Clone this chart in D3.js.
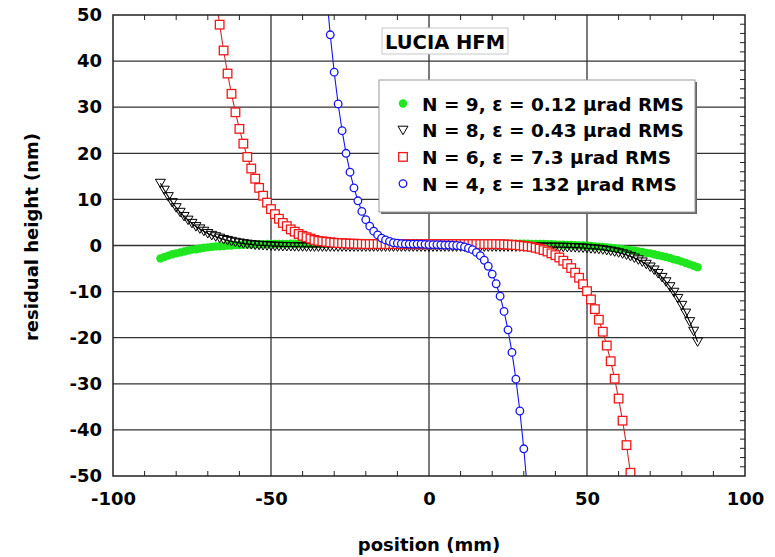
<!DOCTYPE html>
<html>
<head>
<meta charset="utf-8">
<title>LUCIA HFM residual height</title>
<style>
  body { margin: 0; background: #fff; }
  text { font-family: "DejaVu Sans", sans-serif; font-weight: bold; fill: #000; }
  .grid line { stroke: #333; stroke-width: 1.3; }
  .minor line { stroke: #222; stroke-width: 1; }
</style>
</head>
<body>
<svg width="775" height="557"></svg>
<script src="https://cdn.jsdelivr.net/npm/d3@7/dist/d3.min.js"></script>
<script>
// positions along the mirror (mm), shared by all four fits
const positions = [
  -85, -83.75, -82.5, -81.25, -80, -78.75, -77.5, -76.25, -75, -73.75,
  -72.5, -71.25, -70, -68.75, -67.5, -66.25, -65, -63.75, -62.5, -61.25,
  -60, -58.75, -57.5, -56.25, -55, -53.75, -52.5, -51.25, -50, -48.75,
  -47.5, -46.25, -45, -43.75, -42.5, -41.25, -40, -38.75, -37.5, -36.25,
  -35, -33.75, -32.5, -31.25, -30, -28.75, -27.5, -26.25, -25, -23.75,
  -22.5, -21.25, -20, -18.75, -17.5, -16.25, -15, -13.75, -12.5, -11.25,
  -10, -8.75, -7.5, -6.25, -5, -3.75, -2.5, -1.25, 0, 1.25,
  2.5, 3.75, 5, 6.25, 7.5, 8.75, 10, 11.25, 12.5, 13.75,
  15, 16.25, 17.5, 18.75, 20, 21.25, 22.5, 23.75, 25, 26.25,
  27.5, 28.75, 30, 31.25, 32.5, 33.75, 35, 36.25, 37.5, 38.75,
  40, 41.25, 42.5, 43.75, 45, 46.25, 47.5, 48.75, 50, 51.25,
  52.5, 53.75, 55, 56.25, 57.5, 58.75, 60, 61.25, 62.5, 63.75,
  65, 66.25, 67.5, 68.75, 70, 71.25, 72.5, 73.75, 75, 76.25,
  77.5, 78.75, 80, 81.25, 82.5, 83.75, 85
];

// residual height (nm), N = 9
const n9Values = [
  -2.8, -2.5, -2.2, -1.9, -1.7, -1.5, -1.3, -1.1, -0.9, -0.8,
  -0.65, -0.5, -0.4, -0.3, -0.2, -0.15, -0.1, 0, 0, 0.1,
  0.1, 0.15, 0.2, 0.2, 0.25, 0.27, 0.29, 0.31, 0.32, 0.33,
  0.34, 0.35, 0.36, 0.37, 0.38, 0.38, 0.39, 0.4, 0.4, 0.4,
  0.4, 0.4, 0.4, 0.4, 0.4, 0.4, 0.4, 0.4, 0.4, 0.4,
  0.4, 0.4, 0.4, 0.4, 0.4, 0.4, 0.4, 0.4, 0.4, 0.4,
  0.4, 0.4, 0.4, 0.4, 0.4, 0.4, 0.4, 0.4, 0.4, 0.4,
  0.4, 0.4, 0.4, 0.4, 0.4, 0.4, 0.4, 0.4, 0.4, 0.4,
  0.4, 0.4, 0.4, 0.4, 0.4, 0.4, 0.4, 0.4, 0.4, 0.4,
  0.4, 0.4, 0.38, 0.37, 0.36, 0.35, 0.33, 0.31, 0.29, 0.26,
  0.23, 0.2, 0.17, 0.14, 0.1, 0.07, 0.03, 0, -0.05, -0.1,
  -0.2, -0.25, -0.3, -0.4, -0.5, -0.6, -0.7, -0.8, -0.9, -1.0,
  -1.1, -1.3, -1.4, -1.6, -1.7, -1.9, -2.1, -2.3, -2.5, -2.7,
  -3.0, -3.2, -3.5, -3.8, -4.1, -4.4, -4.7
];

// N = 8
const n8Values = [
  13.5, 12.0, 10.6, 9.3, 8.2, 7.2, 6.3, 5.5, 4.8, 4.1,
  3.6, 3.1, 2.6, 2.2, 1.9, 1.6, 1.3, 1.1, 0.9, 0.7,
  0.55, 0.4, 0.3, 0.2, 0.1, 0.05, 0, -0.05, -0.1, -0.14,
  -0.17, -0.2, -0.21, -0.23, -0.25, -0.27, -0.28, -0.29, -0.3, -0.3,
  -0.3, -0.3, -0.3, -0.3, -0.3, -0.3, -0.3, -0.3, -0.3, -0.3,
  -0.3, -0.3, -0.3, -0.3, -0.3, -0.3, -0.3, -0.3, -0.3, -0.3,
  -0.3, -0.3, -0.3, -0.3, -0.3, -0.3, -0.3, -0.3, -0.3, -0.3,
  -0.3, -0.3, -0.3, -0.3, -0.3, -0.3, -0.3, -0.3, -0.3, -0.3,
  -0.3, -0.3, -0.3, -0.3, -0.3, -0.3, -0.3, -0.3, -0.3, -0.3,
  -0.3, -0.3, -0.3, -0.3, -0.3, -0.31, -0.32, -0.33, -0.34, -0.35,
  -0.36, -0.37, -0.38, -0.4, -0.43, -0.46, -0.5, -0.54, -0.6, -0.7,
  -0.74, -0.83, -0.93, -1.06, -1.2, -1.37, -1.57, -1.8, -2.06, -2.36,
  -2.71, -3.11, -3.56, -4.07, -4.66, -5.32, -6.07, -6.92, -7.87, -8.94,
  -10.14, -11.48, -12.98, -14.66, -16.52, -18.6, -20.9
];

// N = 6 (null where the fit runs far off the plot)
const n6Values = [
  null, null, null, null, null, null, null, null, null, null,
  null, null, null, 60.8, 54.0, 47.9, 42.3, 37.3, 32.9, 28.9,
  25.3, 22.1, 19.2, 16.7, 14.5, 12.5, 10.8, 9.3, 7.9, 6.8,
  5.8, 4.9, 4.2, 3.5, 3.0, 2.5, 2.1, 1.8, 1.5, 1.2,
  1.0, 0.9, 0.8, 0.7, 0.6, 0.55, 0.5, 0.45, 0.4, 0.4,
  0.35, 0.35, 0.3, 0.3, 0.3, 0.3, 0.3, 0.3, 0.3, 0.3,
  0.3, 0.3, 0.3, 0.3, 0.3, 0.3, 0.3, 0.3, 0.3, 0.3,
  0.3, 0.3, 0.3, 0.3, 0.3, 0.3, 0.3, 0.3, 0.3, 0.3,
  0.3, 0.3, 0.3, 0.3, 0.3, 0.3, 0.28, 0.25, 0.2, 0.15,
  0.1, 0, -0.1, -0.2, -0.3, -0.5, -0.7, -1.0, -1.3, -1.7,
  -2.1, -2.6, -3.3, -4.0, -4.9, -5.9, -7.0, -8.4, -9.9, -11.7,
  -13.8, -16.1, -18.7, -21.7, -25.1, -28.9, -33.2, -38.0, -43.3, -49.3,
  -56.3, null, null, null, null, null, null, null, null, null,
  null, null, null, null, null, null, null
];

// N = 4
const n4Values = [
  null, null, null, null, null, null, null, null, null, null,
  null, null, null, null, null, null, null, null, null, null,
  null, null, null, null, null, null, null, null, null, null,
  null, null, null, null, null, null, null, null, null, null,
  null, 66.0, 55.1, 45.7, 37.6, 30.7, 24.9, 20.0, 15.9, 12.5,
  9.7, 7.4, 5.6, 4.2, 3.1, 2.3, 1.6, 1.2, 0.9, 0.6,
  0.5, 0.4, 0.35, 0.3, 0.3, 0.3, 0.3, 0.25, 0.2, 0.2,
  0.2, 0.15, 0.1, 0.1, 0.05, 0, -0.1, -0.3, -0.6, -0.9,
  -1.5, -2.2, -3.2, -4.5, -6.2, -8.3, -11.0, -14.3, -18.3, -23.2,
  -29.0, -35.9, -44.1, -53.8, null, null, null, null, null, null,
  null, null, null, null, null, null, null, null, null, null,
  null, null, null, null, null, null, null, null, null, null,
  null, null, null, null, null, null, null, null, null, null,
  null, null, null, null, null, null, null
];

const seriesNames = [
  "N = 9, \u03b5 = 0.12 \u03bcrad RMS",
  "N = 8, \u03b5 = 0.43 \u03bcrad RMS",
  "N = 6, \u03b5 = 7.3 \u03bcrad RMS",
  "N = 4, \u03b5 = 132 \u03bcrad RMS"
];
const xTicks = [-100, -50, 0, 50, 100];
const yTicks = [-50, -40, -30, -20, -10, 0, 10, 20, 30, 40, 50];

const svg = d3.select("svg");
const box = {left: 113, right: 745, top: 15, bottom: 476};

const x = d3.scaleLinear().domain([-100, 100]).range([box.left, box.right]);
const y = d3.scaleLinear().domain([-50, 50]).range([box.bottom, box.top]);

svg.append("clipPath").attr("id", "plot-clip")
  .append("rect")
    .attr("x", box.left).attr("y", box.top)
    .attr("width", box.right - box.left).attr("height", box.bottom - box.top);

// grid
const grid = svg.append("g").attr("class", "grid");
grid.selectAll(".gx")
  .data(xTicks.slice(1, -1))
  .enter().append("line")
    .attr("x1", d => x(d)).attr("x2", d => x(d))
    .attr("y1", box.top).attr("y2", box.bottom);
grid.selectAll(".gy")
  .data(yTicks.slice(1, -1))
  .enter().append("line")
    .attr("x1", box.left).attr("x2", box.right)
    .attr("y1", d => y(d)).attr("y2", d => y(d));

// minor ticks: top, bottom and right edges, pointing in
const minor = svg.append("g").attr("class", "minor");
const xMinor = x.ticks(20).filter(d => xTicks.indexOf(d) < 0);
minor.selectAll(".mt")
  .data(xMinor)
  .enter().append("line")
    .attr("x1", d => x(d)).attr("x2", d => x(d))
    .attr("y1", box.top).attr("y2", box.top + 5);
minor.selectAll(".mb")
  .data(xMinor)
  .enter().append("line")
    .attr("x1", d => x(d)).attr("x2", d => x(d))
    .attr("y1", box.bottom).attr("y2", box.bottom - 5);
minor.selectAll(".mr")
  .data(y.ticks(50).filter(d => yTicks.indexOf(d) < 0))
  .enter().append("line")
    .attr("x1", box.right).attr("x2", box.right - 5)
    .attr("y1", d => y(d)).attr("y2", d => y(d));

// data
const styles = [
  {color: "#1fe61f", line: null, shape: "dot"},
  {color: "#000", line: "#000", shape: "tri"},
  {color: "#f01818", line: "#c03030", shape: "square"},
  {color: "#1515f0", line: "#1515f0", shape: "circle"}
];
const allValues = [n9Values, n8Values, n6Values, n4Values];

function drawMarker(sel, shape, color) {
  if (shape === "dot") {
    sel.append("circle").attr("r", 4.2).attr("fill", color).attr("stroke", "none");
  } else if (shape === "tri") {
    sel.append("path").attr("d", "M-5,-4L5,-4L0,4.5Z")
      .attr("fill", "none").attr("stroke", color).attr("stroke-width", 1);
  } else if (shape === "square") {
    sel.append("rect").attr("x", -4.3).attr("y", -4.3).attr("width", 8.6).attr("height", 8.6)
      .attr("fill", "#fff").attr("stroke", color).attr("stroke-width", 1.3);
  } else {
    sel.append("circle").attr("r", 3.8)
      .attr("fill", "#fff").attr("stroke", color).attr("stroke-width", 1.3);
  }
}

const plotArea = svg.append("g").attr("clip-path", "url(#plot-clip)");
const line = d3.line().x(d => x(d.x)).y(d => y(d.y));

allValues.forEach((vals, k) => {
  const pts = positions.map((p, i) => ({x: p, y: vals[i]})).filter(d => d.y !== null);
  const st = styles[k];
  const g = plotArea.append("g");
  if (st.line) {
    g.append("path").datum(pts)
      .attr("d", line)
      .attr("fill", "none").attr("stroke", st.line).attr("stroke-width", 1.1);
  }
  g.selectAll(".m")
    .data(pts)
    .enter().append("g")
      .attr("transform", d => `translate(${x(d.x)},${y(d.y)})`)
      .each(function() { drawMarker(d3.select(this), st.shape, st.color); });
});

// frame
svg.append("rect")
  .attr("x", box.left).attr("y", box.top)
  .attr("width", box.right - box.left).attr("height", box.bottom - box.top)
  .attr("fill", "none").attr("stroke", "#222").attr("stroke-width", 1.5);

// axes labels
const yAxis = svg.append("g")
  .attr("transform", `translate(${box.left},0)`)
  .call(d3.axisLeft(y).tickValues(yTicks).tickSize(0).tickPadding(11).tickFormat(d => String(d)));
const xAxis = svg.append("g")
  .attr("transform", `translate(0,${box.bottom})`)
  .call(d3.axisBottom(x).tickValues(xTicks).tickSize(0).tickPadding(16).tickFormat(d => String(d)));
[yAxis, xAxis].forEach(a => {
  a.select(".domain").remove();
  a.attr("font-family", null).attr("font-size", null);
  a.selectAll("text").style("font-size", "18px").attr("fill", "#000");
});

svg.append("text")
  .attr("x", 429).attr("y", 551)
  .attr("text-anchor", "middle")
  .style("font-size", "18px")
  .text("position (mm)");

svg.append("text")
  .attr("transform", "translate(38,237) rotate(-90)")
  .attr("text-anchor", "middle")
  .style("font-size", "18px")
  .text("residual height (nm)");

// title box
svg.append("rect")
  .attr("x", 382).attr("y", 28).attr("width", 126).attr("height", 26)
  .attr("fill", "#fff").attr("stroke", "#c8c8c8").attr("stroke-width", 1);
svg.append("text")
  .attr("x", 385).attr("y", 49)
  .style("font-size", "19.5px")
  .text("LUCIA HFM");

// legend
const legend = svg.append("g");
legend.append("rect")
  .attr("x", 381).attr("y", 82).attr("width", 316).attr("height", 132)
  .attr("fill", "#666");
legend.append("rect")
  .attr("x", 379).attr("y", 80).attr("width", 316).attr("height", 132)
  .attr("fill", "#fff").attr("stroke", "#999").attr("stroke-width", 1);

const rows = legend.selectAll(".row")
  .data(seriesNames)
  .enter().append("g")
    .attr("transform", (d, i) => `translate(403,${103.5 + i * 26.7})`);
rows.each(function(d, i) { drawMarker(d3.select(this), styles[i].shape, styles[i].color); });
rows.append("text")
  .attr("x", 19).attr("y", 7)
  .style("font-size", "18.5px")
  .text(d => d);
</script>
</body>
</html>
